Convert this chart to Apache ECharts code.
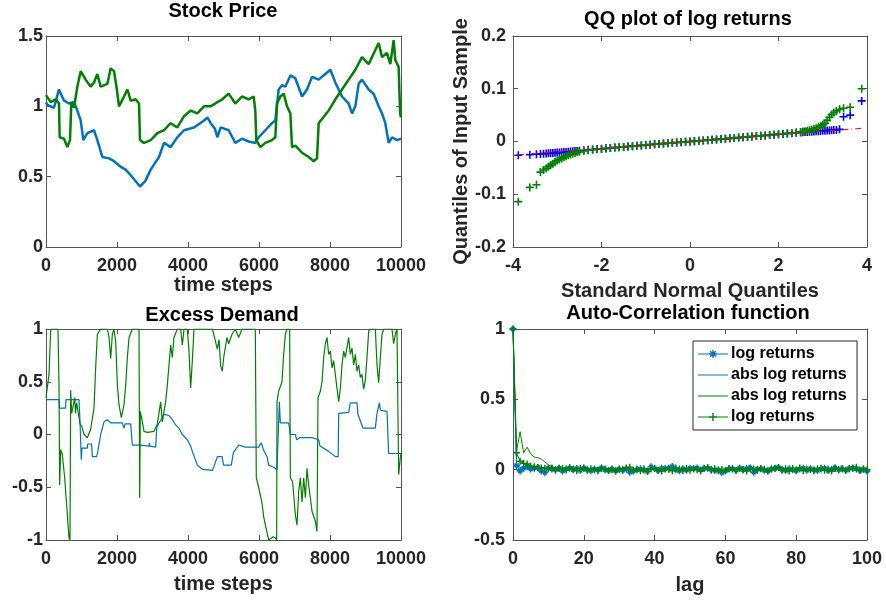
<!DOCTYPE html>
<html>
<head>
<meta charset="utf-8">
<script src="https://cdn.jsdelivr.net/npm/echarts@6/dist/echarts.min.js"></script>
<style>
    html, body { margin:0; padding:0; background:#fff; }
    #chart { width:886px; height:600px; }
</style>
</head>
<body>
<div id="chart"></div>
<script>
    // ---- stock price (time step, price) ----
    var priceBlue = [[0,1.03],[37,1.01],[225,0.99],[366,1.12],[507,1.04],[648,1.02],[789,1.03],[883,0.97],[977,0.90],[1052,0.76],[1164,0.81],[1352,0.83],[1446,0.76],[1587,0.64],[1775,0.63],[1916,0.61],[2104,0.57],[2245,0.55],[2386,0.51],[2550,0.46],[2648,0.43],[2800,0.47],[2949,0.55],[3183,0.64],[3324,0.74],[3512,0.71],[3699,0.78],[3888,0.83],[4169,0.85],[4451,0.90],[4550,0.92],[4639,0.88],[4760,0.84],[4827,0.78],[4920,0.85],[4958,0.855],[5146,0.83],[5333,0.74],[5521,0.77],[5709,0.75],[5896,0.74],[5990,0.78],[6178,0.83],[6366,0.88],[6460,0.90],[6554,1.12],[6648,1.15],[6742,1.14],[6883,1.22],[7024,1.20],[7212,1.07],[7353,1.12],[7494,1.21],[7681,1.19],[7869,1.23],[8010,1.26],[8150,1.17],[8338,1.07],[8526,1.02],[8620,0.95],[8714,1.0],[8808,1.16],[8901,1.19],[9090,1.12],[9230,1.09],[9371,1.0],[9465,0.95],[9558,0.88],[9652,0.74],[9746,0.78],[9887,0.76],[10000,0.77]];
    var priceGreen = [[0,1.08],[131,1.03],[272,1.05],[366,1.02],[385,0.78],[507,0.77],[601,0.71],[676,0.76],[714,1.03],[789,0.99],[883,1.14],[977,1.25],[1117,1.19],[1258,1.14],[1352,1.17],[1446,1.23],[1540,1.14],[1728,1.16],[1822,1.27],[1916,1.25],[1991,1.13],[2057,1.0],[2197,1.07],[2292,1.12],[2386,1.04],[2526,1.05],[2620,1.02],[2648,0.76],[2761,0.74],[2949,0.76],[3136,0.81],[3324,0.83],[3512,0.88],[3699,0.85],[3888,0.93],[4075,0.97],[4263,0.95],[4451,1.0],[4639,1.0],[4827,1.03],[4967,1.05],[5146,1.09],[5333,1.02],[5521,1.07],[5709,1.05],[5849,1.07],[5896,0.97],[5924,0.76],[6037,0.71],[6178,0.74],[6366,0.76],[6460,0.78],[6507,1.02],[6601,1.07],[6695,1.09],[6789,1.0],[6883,0.95],[6930,0.71],[7024,0.72],[7212,0.67],[7400,0.64],[7541,0.61],[7634,0.63],[7681,0.88],[7775,0.91],[7963,0.97],[8150,1.05],[8338,1.12],[8526,1.19],[8714,1.26],[8901,1.35],[9090,1.30],[9277,1.40],[9371,1.45],[9465,1.35],[9605,1.38],[9699,1.30],[9793,1.47],[9840,1.33],[9934,1.28],[9975,0.95],[10000,0.92]];

    // ---- excess demand (time step, demand) ----
    var demandBlue = [[0,0.33],[366,0.33],[380,0.25],[554,0.25],[560,0.33],[930,0.33],[958,0.12],[995,-0.24],[1010,-0.13],[1164,-0.13],[1175,-0.09],[1286,-0.09],[1305,-0.21],[1427,-0.21],[1460,-0.16],[1540,0.0],[1634,0.12],[1728,0.14],[1822,0.11],[2150,0.11],[2197,0.06],[2230,0.1],[2386,0.1],[2432,-0.1],[2667,-0.1],[2700,-0.11],[2902,-0.11],[2910,-0.08],[2930,-0.11],[3090,-0.12],[3118,0.06],[3170,0.1],[3324,0.19],[3465,0.18],[3558,0.14],[3652,0.09],[3747,0.06],[3840,0.0],[3981,-0.05],[4075,-0.11],[4122,-0.16],[4263,-0.29],[4404,-0.33],[4685,-0.34],[4733,-0.3],[4827,-0.21],[4958,-0.21],[5005,-0.29],[5220,-0.29],[5280,-0.17],[5427,-0.1],[5615,-0.12],[5991,-0.12],[6066,-0.08],[6132,-0.15],[6226,-0.21],[6273,-0.29],[6414,-0.31],[6507,-0.335],[6554,-0.335],[6573,0.31],[6601,0.11],[6836,0.11],[6883,0.0],[7024,0.0],[7060,-0.05],[7150,-0.03],[7494,-0.03],[7681,-0.05],[7720,-0.11],[7963,-0.16],[8150,-0.21],[8230,-0.21],[8245,0.2],[8526,0.21],[8573,0.3],[8761,0.3],[8789,0.19],[8930,0.06],[9277,0.06],[9324,0.2],[9390,0.30],[9420,0.23],[9606,0.22],[9652,-0.18],[10000,-0.18]];
    var demandGreen = [[0,0.35],[37,0.35],[85,0.57],[131,0.98],[150,1.0],[338,1.0],[366,0.47],[385,-0.48],[413,-0.145],[460,-0.19],[526,-0.41],[582,-0.67],[648,-0.98],[676,-1.0],[695,0.42],[723,0.2],[770,0.2],[811,0.35],[830,0.2],[864,0.3],[911,0.2],[958,0.1],[1005,0.08],[1070,0.0],[1164,-0.03],[1258,0.05],[1352,0.25],[1399,0.63],[1446,0.95],[1540,1.0],[1728,1.0],[1775,0.92],[1822,0.72],[1869,0.95],[1916,1.0],[1963,0.88],[2010,0.47],[2057,0.28],[2122,0.16],[2197,0.28],[2245,0.47],[2292,0.73],[2339,0.92],[2432,1.0],[2620,1.0],[2639,-0.6],[2657,0.22],[2714,0.12],[2761,0.03],[2855,0.02],[3043,0.03],[3136,0.1],[3230,0.31],[3277,0.12],[3324,0.22],[3371,0.31],[3418,0.47],[3512,0.85],[3558,0.73],[3605,0.92],[3699,1.0],[3793,1.0],[3840,0.85],[3888,1.0],[3981,1.0],[4028,0.79],[4075,0.44],[4122,0.7],[4169,1.0],[4686,1.0],[4733,0.94],[4827,0.81],[4874,0.9],[4920,0.65],[4967,0.6],[5005,0.73],[5099,0.92],[5146,0.86],[5240,0.95],[5333,1.0],[5427,0.92],[5521,1.0],[5896,1.0],[5924,-0.41],[5990,-0.5],[6085,-0.65],[6132,-0.78],[6226,-0.93],[6273,-1.0],[6400,-0.97],[6460,-0.98],[6498,-1.0],[6507,0.31],[6554,0.41],[6648,0.5],[6695,0.76],[6742,0.95],[6789,1.0],[6864,1.0],[6883,-0.41],[6948,-0.45],[7024,-0.76],[7071,-0.86],[7118,-0.54],[7165,-0.41],[7212,-0.64],[7259,-0.41],[7306,-0.6],[7353,-0.32],[7400,-0.48],[7447,-0.6],[7494,-0.73],[7587,-0.82],[7634,-0.92],[7662,0.35],[7728,0.41],[7775,0.5],[7822,0.73],[7869,0.86],[7916,0.92],[7963,0.76],[8010,0.79],[8057,0.63],[8103,0.7],[8150,0.57],[8197,0.44],[8245,0.31],[8292,0.44],[8338,0.66],[8385,0.79],[8432,0.73],[8526,0.92],[8573,0.76],[8620,0.82],[8667,0.66],[8714,0.76],[8761,0.6],[8808,0.66],[8855,0.54],[8901,0.57],[8948,0.43],[8995,0.51],[9042,0.73],[9090,0.98],[9130,1.0],[9277,1.0],[9324,0.66],[9371,0.49],[9418,0.73],[9465,0.95],[9512,1.0],[9746,1.0],[9793,0.86],[9840,0.95],[9887,1.0],[9915,1.0],[9934,-0.38],[9981,-0.22],[10000,-0.18]];

    // ---- QQ plot: standard normal quantiles and sample quantiles ----
    var qqX = [-3.88,-3.62,-3.47,-3.38,-3.31,-3.25,-3.2,-3.15,-3.1,-3.05,-3.0,-2.95,-2.9,-2.85,-2.8,-2.75,-2.7,-2.65,-2.6,-2.55,-2.5,
        -2.4,-2.3,-2.2,-2.1,-2.0,-1.9,-1.8,-1.7,-1.6,-1.5,-1.4,-1.3,-1.2,-1.1,-1.0,-0.9,-0.8,-0.7,-0.6,-0.5,-0.4,-0.3,-0.2,-0.1,0,
        0.1,0.2,0.3,0.4,0.5,0.6,0.7,0.8,0.9,1.0,1.1,1.2,1.3,1.4,1.5,1.6,1.7,1.8,1.9,2.0,2.1,2.2,2.3,2.4,
        2.5,2.55,2.6,2.65,2.7,2.75,2.8,2.85,2.9,2.95,3.0,3.05,3.1,3.15,3.2,3.25,3.31,3.38,3.47,3.62,3.88];
    var qqBlue = [-0.026,-0.025,-0.024,-0.0235,-0.023,-0.0228,-0.0225,-0.022,-0.0218,-0.0215,-0.021,-0.0207,-0.0204,-0.02,-0.0197,-0.0193,-0.019,-0.0186,-0.0182,-0.0178,-0.0174,
        -0.0166,-0.0158,-0.0151,-0.0144,-0.0137,-0.013,-0.0123,-0.0116,-0.0109,-0.0102,-0.0095,-0.0088,-0.0081,-0.0074,-0.0067,-0.006,-0.0053,-0.0046,-0.004,-0.0033,-0.0026,-0.002,-0.0013,-0.0007,0,
        0.0007,0.0013,0.002,0.0026,0.0033,0.004,0.0046,0.0053,0.006,0.0067,0.0074,0.0081,0.0088,0.0095,0.0102,0.0109,0.0116,0.0123,0.013,0.0137,0.0144,0.0151,0.0158,0.0166,
        0.0172,0.0175,0.0178,0.0181,0.0184,0.0187,0.019,0.0193,0.0196,0.0199,0.0202,0.0205,0.0208,0.021,0.0213,0.0216,0.022,0.023,0.047,0.05,0.077];
    var qqGreen = [-0.114,-0.087,-0.082,-0.058,-0.054,-0.051,-0.048,-0.045,-0.042,-0.039,-0.036,-0.034,-0.032,-0.03,-0.028,-0.026,-0.0245,-0.023,-0.0218,-0.0206,-0.0196,
        -0.018,-0.0167,-0.0157,-0.0148,-0.014,-0.0132,-0.0124,-0.0116,-0.0109,-0.0102,-0.0095,-0.0088,-0.0081,-0.0074,-0.0067,-0.006,-0.0053,-0.0046,-0.004,-0.0033,-0.0026,-0.002,-0.0013,-0.0007,0,
        0.0007,0.0013,0.002,0.0026,0.0033,0.004,0.0046,0.0053,0.006,0.0067,0.0074,0.0081,0.0088,0.0095,0.0102,0.0109,0.0116,0.0123,0.013,0.0138,0.0146,0.0154,0.0163,0.0172,
        0.0182,0.0188,0.0195,0.0203,0.0213,0.0225,0.0238,0.0253,0.027,0.029,0.0315,0.0345,0.04,0.046,0.051,0.055,0.058,0.061,0.063,0.065,0.1];
    var qqRefLine = [[-3.88,-0.025],[3.88,0.025]];

    // ---- auto-correlation, lags 0..100 ----
    var acfBlueLog = [1,0.03,-0.01,0.01,0.02,0.005,0.01,0.015,-0.01,-0.02,0.01,
        0.005,0.0,0.01,-0.01,0.005,0.012,0.0,0.008,-0.005,0.01,
        0.0,-0.008,0.005,-0.003,0.012,0.0,-0.006,0.004,-0.01,0.002,
        -0.004,0.006,-0.018,-0.012,0.0,0.006,-0.004,-0.012,0.02,0.008,
        -0.006,0.01,0.004,0.012,0.022,0.0,-0.008,0.006,-0.004,0.01,
        0.006,0.012,-0.002,0.008,0.01,0.002,-0.006,0.0,-0.02,-0.01,
        0.004,0.006,-0.004,0.01,0.0,0.008,0.014,-0.018,0.002,0.006,
        -0.004,-0.01,0.004,0.008,0.016,0.002,-0.006,0.006,0.0,-0.008,
        0.004,0.01,-0.004,0.006,0.0,-0.006,0.004,0.01,-0.006,0.002,
        0.014,0.0,0.006,-0.004,0.008,0.012,0.004,-0.006,0.002,-0.01];
    var acfBlueAbs = [1,0.04,0.015,0.01,0.012,0.008,0.01,0.006,0.008,0.005,0.006,
        0.004,0.005,0.003,0.006,0.004,0.005,0.002,0.004,0.005,0.003,
        0.004,0.002,0.005,0.003,0.004,0.002,0.003,0.004,0.002,0.003,
        0.005,0.002,0.001,0.003,0.004,0.002,0.003,0.001,0.004,0.003,
        0.002,0.004,0.003,0.002,0.005,0.003,0.002,0.003,0.001,0.004,
        0.002,0.003,0.002,0.004,0.003,0.001,0.002,0.003,0.0,0.002,
        0.003,0.002,0.004,0.001,0.003,0.002,0.003,0.001,0.002,0.003,
        0.002,0.001,0.003,0.002,0.004,0.002,0.001,0.003,0.002,0.001,
        0.002,0.003,0.001,0.002,0.003,0.001,0.002,0.001,0.003,0.002,
        0.001,0.002,0.003,0.001,0.002,0.001,0.002,0.003,0.001,0.0];
    var acfGreenAbs = [1,0.13,0.27,0.12,0.16,0.11,0.09,0.085,0.075,0.055,0.035,
        0.02,0.015,0.012,0.01,0.014,0.008,0.01,0.012,0.007,0.009,
        0.006,0.008,0.01,0.005,0.007,0.009,0.004,0.006,0.008,0.005,
        0.006,0.004,0.007,0.005,0.003,0.006,0.004,0.005,0.007,0.004,
        0.003,0.005,0.006,0.004,0.002,0.005,0.004,0.003,0.006,0.004,
        0.002,0.005,0.003,0.004,0.002,0.004,0.005,0.003,0.001,0.003,
        0.004,0.002,0.003,0.005,0.002,0.003,0.004,0.002,0.001,0.003,
        0.004,0.002,0.003,0.002,0.004,0.001,0.003,0.002,0.004,0.002,
        0.001,0.003,0.002,0.003,0.001,0.002,0.004,0.002,0.001,0.003,
        0.002,0.001,0.003,0.002,0.001,0.002,0.003,0.001,0.002,0.001];
    var acfGreenLog = [1,0.12,0.06,0.045,0.04,0.025,0.02,0.015,0.012,0.01,0.008,
        0.012,-0.004,0.01,0.006,-0.002,0.014,0.004,-0.006,0.008,0.012,
        -0.004,0.006,0.0,-0.008,0.01,0.004,-0.006,0.002,-0.01,0.006,
        0.0,0.012,0.018,-0.006,0.004,-0.008,0.006,-0.012,0.004,0.01,
        -0.004,-0.01,0.006,0.002,-0.008,0.012,0.004,-0.006,0.008,-0.004,
        0.006,0.0,-0.01,0.01,0.016,-0.004,0.006,-0.008,0.002,-0.006,
        0.008,0.004,-0.006,0.01,0.0,-0.01,0.006,0.004,-0.004,0.008,
        0.002,-0.008,0.004,0.01,0.016,-0.004,0.006,-0.01,0.008,0.0,
        0.012,-0.006,0.004,0.002,-0.008,0.006,0.01,-0.004,0.004,-0.01,
        0.008,0.0,0.006,-0.006,0.004,0.01,0.018,-0.004,0.006,0.0];

    var FONT = "'Liberation Sans', Arial, Helvetica, sans-serif";
    var AXIS_COLOR = '#555';
    var TEXT_COLOR = '#262626';
    var BLUE = '#0072BD', GREEN = '#008000';
    var PLUS = 'path://M0,4H10V6H0Z M4,0H6V10H4Z';
    var STAR = 'path://M4,0H6V10H4Z M0,4H10V6H0Z M1.4,2.8L2.8,1.4L8.6,7.2L7.2,8.6Z M7.2,1.4L8.6,2.8L2.8,8.6L1.4,7.2Z';
    // legend icons: a 30px line, optionally with the marker in its middle
    var ICON_LINE = 'path://M0,4.5H30V5.5H0Z';
    var ICON_PLUS = 'path://M0,4.5H30V5.5H0Z M11,4.3H19V5.7H11Z M14.3,1H15.7V9H14.3Z';
    var ICON_STAR = 'path://M0,4.5H30V5.5H0Z M11,4.3H19V5.7H11Z M14.3,1H15.7V9H14.3Z M11.7,2.7L12.7,1.7L18.3,7.3L17.3,8.3Z M17.3,1.7L18.3,2.7L12.7,8.3L11.7,7.3Z';

    var grids = [
        {left: 46, top: 36, width: 355, height: 211},
        {left: 513, top: 36, width: 354, height: 211},
        {left: 46, top: 329, width: 355, height: 211},
        {left: 513, top: 329, width: 354, height: 211}
    ];

    function plainNumber(v) {
        return String(parseFloat(v.toFixed(4)));
    }

    // bottom / left axes with labels
    function mainAxis(idx, min, max, interval, name, nameGap, labelMargin) {
        return {
            type: 'value', gridIndex: idx, min: min, max: max, interval: interval,
            name: name || '', nameLocation: 'middle', nameGap: nameGap || 0,
            nameTextStyle: {fontFamily: FONT, fontSize: 20, fontWeight: 'bold', color: TEXT_COLOR},
            axisLine: {show: true, onZero: false, lineStyle: {color: AXIS_COLOR, width: 1}},
            axisTick: {show: true, inside: true, length: 5, lineStyle: {color: AXIS_COLOR}},
            axisLabel: {fontFamily: FONT, fontSize: 18, fontWeight: 'bold', color: TEXT_COLOR,
                margin: labelMargin, formatter: plainNumber},
            splitLine: {show: false}
        };
    }
    // top / right mirror axes: box line and inner ticks only
    function mirrorAxis(idx, min, max, interval, position) {
        return {
            type: 'value', gridIndex: idx, min: min, max: max, interval: interval, position: position,
            axisLine: {show: true, onZero: false, lineStyle: {color: AXIS_COLOR, width: 1}},
            axisTick: {show: true, inside: true, length: 5, lineStyle: {color: AXIS_COLOR}},
            axisLabel: {show: false},
            splitLine: {show: false}
        };
    }

    var xAxes = [
        mainAxis(0, 0, 10000, 2000, 'time steps', 25, 10),
        mainAxis(1, -4, 4, 2, 'Standard Normal Quantiles', 34, 10),
        mainAxis(2, 0, 10000, 2000, 'time steps', 34, 10),
        mainAxis(3, 0, 100, 20, 'lag', 35, 10),
        mirrorAxis(0, 0, 10000, 2000, 'top'),
        mirrorAxis(1, -4, 4, 2, 'top'),
        mirrorAxis(2, 0, 10000, 2000, 'top'),
        mirrorAxis(3, 0, 100, 20, 'top')
    ];
    var yAxes = [
        mainAxis(0, 0, 1.5, 0.5, '', 0, 3),
        mainAxis(1, -0.2, 0.2, 0.1, 'Quantiles of Input Sample', 41, 7),
        mainAxis(2, -1, 1, 0.5, '', 0, 3),
        mainAxis(3, -0.5, 1, 0.5, '', 0, 8),
        mirrorAxis(0, 0, 1.5, 0.5, 'right'),
        mirrorAxis(1, -0.2, 0.2, 0.1, 'right'),
        mirrorAxis(2, -1, 1, 0.5, 'right'),
        mirrorAxis(3, -0.5, 1, 0.5, 'right')
    ];

    function titleAt(text, x, y) {
        return {text: text, left: x, top: y, textAlign: 'center', padding: 0,
            textStyle: {fontFamily: FONT, fontSize: 20, fontWeight: 'bold', color: '#000'}};
    }

    function lineSeries(name, data, xi, color, width) {
        return {name: name, type: 'line', xAxisIndex: xi, yAxisIndex: xi, data: data,
            symbol: 'none', lineStyle: {color: color, width: width}, itemStyle: {color: color},
            silent: true};
    }

    function qqPoints(ys) {
        return qqX.map(function (x, i) { return [x, ys[i]]; });
    }
    function lagPoints(ys) {
        return ys.map(function (v, i) { return [i, v]; });
    }

    var chart = echarts.init(document.getElementById('chart'), null, {renderer: 'canvas'});
    var option = {
        animation: false,
        backgroundColor: '#fff',
        textStyle: {fontFamily: FONT},
        title: [
            titleAt('Stock Price', 223, 1),
            titleAt('QQ plot of log returns', 688, 9),
            titleAt('Excess Demand', 222, 305),
            titleAt('Auto-Correlation function', 688, 303)
        ],
        legend: {
            orient: 'vertical', left: 693, top: 341, padding: [5, 6, 5, 5],
            itemWidth: 30, itemHeight: 14, itemGap: 5, symbolKeepAspect: true,
            backgroundColor: '#fff', borderColor: '#262626', borderWidth: 1, borderRadius: 0,
            textStyle: {fontFamily: FONT, fontSize: 16, fontWeight: 'bold', color: '#000', padding: [0, 0, 0, -2]},
            data: [
                {name: 'log returns', icon: ICON_STAR},
                {name: 'abs log returns', icon: ICON_LINE},
                {name: 'abs log returns ', icon: ICON_LINE},
                {name: 'log returns ', icon: ICON_PLUS}
            ]
        },
        grid: grids,
        xAxis: xAxes,
        yAxis: yAxes,
        series: [
            lineSeries('price blue', priceBlue, 0, BLUE, 2.5),
            lineSeries('price green', priceGreen, 0, GREEN, 2.5),

            {name: 'reference', type: 'line', xAxisIndex: 1, yAxisIndex: 1, data: qqRefLine, symbol: 'none',
                lineStyle: {color: '#ff0000', width: 1, type: [6, 3, 1, 3]}, silent: true},
            {name: 'qq blue', type: 'scatter', xAxisIndex: 1, yAxisIndex: 1, data: qqPoints(qqBlue),
                symbol: PLUS, symbolSize: 8, itemStyle: {color: '#0000ff', opacity: 1}, silent: true},
            {name: 'qq green', type: 'scatter', xAxisIndex: 1, yAxisIndex: 1, data: qqPoints(qqGreen),
                symbol: PLUS, symbolSize: 8, itemStyle: {color: GREEN, opacity: 1}, silent: true},

            lineSeries('demand blue', demandBlue, 2, BLUE, 1.2),
            lineSeries('demand green', demandGreen, 2, GREEN, 1.2),

            {name: 'log returns', type: 'line', xAxisIndex: 3, yAxisIndex: 3, data: lagPoints(acfBlueLog),
                symbol: STAR, symbolSize: 7, showSymbol: true,
                lineStyle: {color: BLUE, width: 1}, itemStyle: {color: BLUE, borderWidth: 0}, silent: true},
            {name: 'abs log returns', type: 'line', xAxisIndex: 3, yAxisIndex: 3, data: lagPoints(acfBlueAbs),
                symbol: 'none', lineStyle: {color: BLUE, width: 1}, itemStyle: {color: BLUE}, silent: true},
            {name: 'abs log returns ', type: 'line', xAxisIndex: 3, yAxisIndex: 3, data: lagPoints(acfGreenAbs),
                symbol: 'none', lineStyle: {color: GREEN, width: 1}, itemStyle: {color: GREEN}, silent: true},
            {name: 'log returns ', type: 'line', xAxisIndex: 3, yAxisIndex: 3, data: lagPoints(acfGreenLog),
                symbol: PLUS, symbolSize: 7, showSymbol: true,
                lineStyle: {color: GREEN, width: 1}, itemStyle: {color: GREEN, borderWidth: 0}, silent: true}
        ]
    };
    chart.setOption(option);
</script>
</body>
</html>
